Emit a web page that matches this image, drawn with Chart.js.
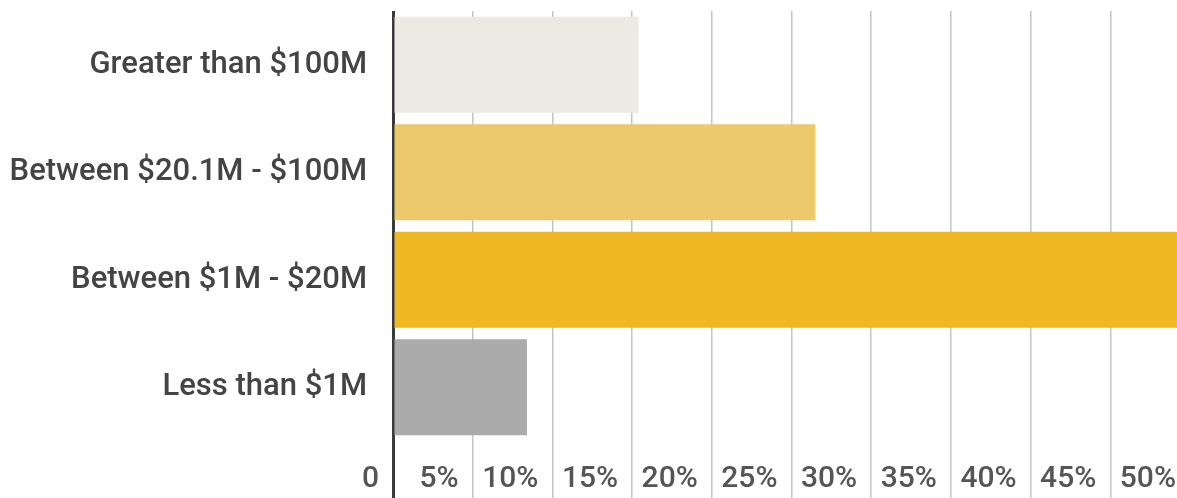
<!DOCTYPE html>
<html>
<head>
<meta charset="utf-8">
<script src="https://cdn.jsdelivr.net/npm/chart.js@4/dist/chart.umd.min.js"></script>
<style>
  html, body { margin: 0; padding: 0; background: #fff; overflow: hidden; }
  #wrap { width: 1190px; height: 498px; }
</style>
</head>
<body>
<div id="wrap"><canvas id="revenueChart"></canvas></div>
<script>
// 売上規模別の割合
const categories = ['Greater than $100M', 'Between $20.1M - $100M', 'Between $1M - $20M', 'Less than $1M'];
const shares = [15.4, 26.5, 49.7, 8.4];
const barColors = ['#ede9e3', '#ecc96b', '#f0b823', '#ababab'];
const tickValues = [0, 5, 10, 15, 20, 25, 30, 35, 40, 45, 50];

const ctx = document.getElementById('revenueChart').getContext('2d');
new Chart(ctx, {
    type: 'bar',
    data: {
        labels: categories,
        datasets: [{
            data: shares,
            backgroundColor: barColors,
            borderWidth: 0,
            barPercentage: 1,
            categoryPercentage: 0.895
        }]
    },
    options: {
        indexAxis: 'y',
        responsive: true,
        maintainAspectRatio: false,
        animation: false,
        layout: { padding: { top: 11, right: 0, left: 0, bottom: 0 } },
        plugins: {
            legend: { display: false },
            tooltip: { enabled: false }
        },
        scales: {
            x: {
                min: 0,
                max: 50,
                afterBuildTicks: function (axis) {
                    axis.ticks = tickValues.map(v => ({ value: v }));
                },
                // 目盛り線を下端まで伸ばす
                afterFit: function (axis) { axis.height = 57; },
                border: { display: false },
                grid: {
                    color: c => c.tick && c.tick.value === 0 ? '#3a3a3a' : '#c4c4c4',
                    tickColor: c => c.tick && c.tick.value === 0 ? '#3a3a3a' : '#c4c4c4',
                    lineWidth: c => c.tick && c.tick.value === 0 ? 3 : 1.5,
                    drawTicks: true,
                    tickLength: 57
                },
                ticks: {
                    align: 'end',
                    labelOffset: -14,
                    padding: -37,
                    maxRotation: 0,
                    autoSkip: false,
                    color: '#555',
                    font: { family: 'Roboto', size: 30, weight: '500' },
                    callback: function (value) {
                        return value === 0 ? '0' : value + '%';
                    }
                }
            },
            y: {
                border: { display: false },
                grid: {
                    display: true,
                    drawOnChartArea: false,
                    drawTicks: true,
                    tickLength: 26,
                    tickColor: 'transparent'
                },
                afterFit: function (axis) {
                    axis.width = 393;
                    axis.paddingTop = 0;
                    axis.paddingBottom = 0;
                },
                ticks: {
                    padding: 0,
                    color: '#444',
                    font: { family: 'Roboto', size: 31, weight: '500' }
                }
            }
        }
    }
});
</script>
</body>
</html>
